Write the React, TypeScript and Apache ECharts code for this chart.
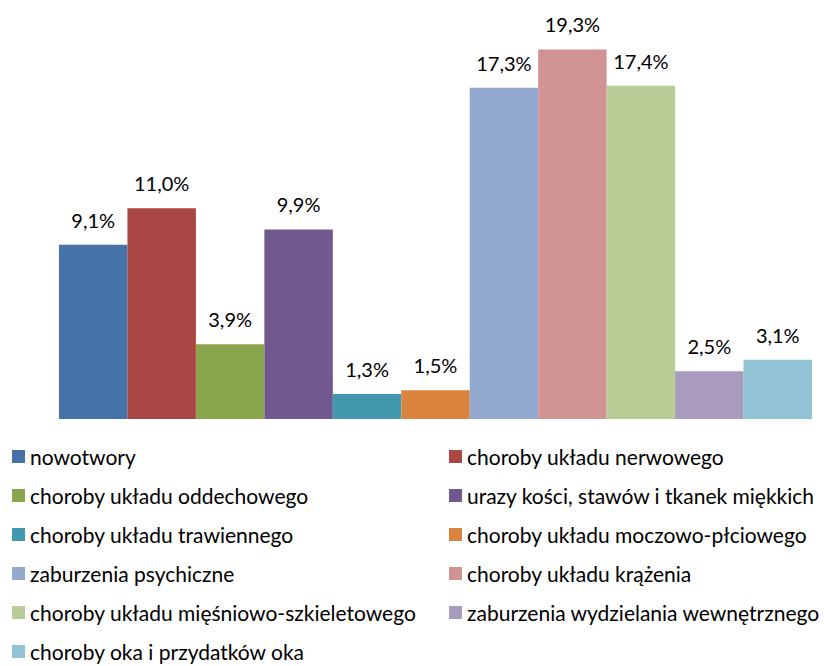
import React, { useEffect, useRef } from "react";
import * as echarts from "echarts";

const names = [
  "nowotwory",
  "choroby układu nerwowego",
  "choroby układu oddechowego",
  "urazy kości, stawów i tkanek miękkich",
  "choroby układu trawiennego",
  "choroby układu moczowo-płciowego",
  "zaburzenia psychiczne",
  "choroby układu krążenia",
  "choroby układu mięśniowo-szkieletowego",
  "zaburzenia wydzielania wewnętrznego",
  "choroby oka i przydatków oka",
];
const values = [9.1, 11.0, 3.9, 9.9, 1.3, 1.5, 17.3, 19.3, 17.4, 2.5, 3.1];
const colors = [
  "#4572A7", "#AA4643", "#89A54E", "#71588F", "#4198AF", "#DB843D",
  "#93A9CF", "#D19392", "#B9CD96", "#A99BBD", "#92C3D5",
];

const FONT = "Lato";

export default function App() {
  const ref = useRef<HTMLDivElement>(null);
  useEffect(() => {
    if (!ref.current) return;
    const chart = echarts.init(ref.current, null, { renderer: "svg" });
    const leftNames = names.filter((_, i) => i % 2 === 0);
    const rightNames = names.filter((_, i) => i % 2 === 1);
    const legendCommon = {
      orient: "vertical" as const,
      itemWidth: 13,
      itemHeight: 13,
      itemGap: 18,
      icon: "rect",
      padding: 0,
      height: 260,
      textStyle: { fontFamily: FONT, fontSize: 21, color: "#000", lineHeight: 21 },
      top: 446,
      selectedMode: false,
    };
    chart.setOption({
      animation: false,
      grid: { left: 59, right: 12, top: 36, bottom: 666 - 419 },
      xAxis: {
        type: "category",
        data: [""],
        axisLine: { show: false },
        axisTick: { show: false },
        axisLabel: { show: false },
      },
      yAxis: {
        type: "value",
        min: 0,
        max: 20,
        show: false,
        splitLine: { show: false },
      },
      legend: [
        { ...legendCommon, left: 12, data: leftNames },
        { ...legendCommon, left: 449, data: rightNames },
      ],
      series: names.map((n, i) => ({
        name: n,
        type: "bar",
        data: [values[i]],
        barGap: "0%",
        barCategoryGap: "0%",
        itemStyle: { color: colors[i] },
        label: {
          show: true,
          position: "top",
          distance: 15,
          fontFamily: FONT,
          fontSize: 20,
          color: "#000",
          formatter: (p: any) => p.value.toFixed(1).replace(".", ",") + "%",
        },
      })),
    });
    return () => chart.dispose();
  }, []);
  return (
    <div
      ref={ref}
      style={{ position: "fixed", left: 0, top: 0, width: 824, height: 666, background: "#fff" }}
    />
  );
}
